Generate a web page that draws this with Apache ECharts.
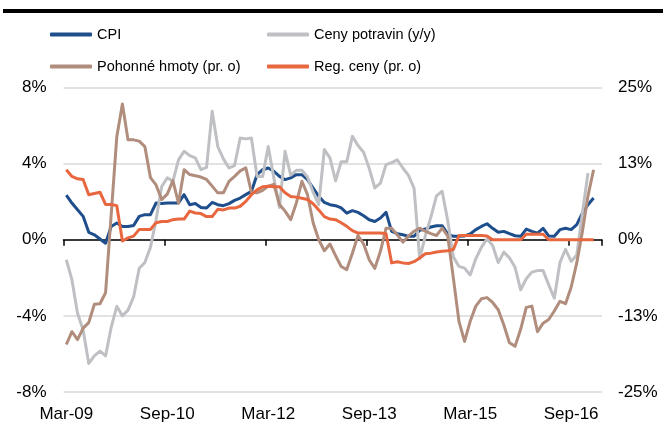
<!DOCTYPE html>
<html>
<head>
<meta charset="utf-8">
<script src="https://cdn.jsdelivr.net/npm/echarts@6/dist/echarts.min.js"></script>
<style>html,body{margin:0;padding:0;background:#fff}#c{width:663px;height:438px}</style>
</head>
<body>
<div id="c"></div>
<script>
const categories = [
 'Mar-09','Apr-09','May-09','Jun-09','Jul-09','Aug-09','Sep-09','Oct-09','Nov-09','Dec-09',
 'Jan-10','Feb-10','Mar-10','Apr-10','May-10','Jun-10','Jul-10','Aug-10','Sep-10','Oct-10','Nov-10','Dec-10',
 'Jan-11','Feb-11','Mar-11','Apr-11','May-11','Jun-11','Jul-11','Aug-11','Sep-11','Oct-11','Nov-11','Dec-11',
 'Jan-12','Feb-12','Mar-12','Apr-12','May-12','Jun-12','Jul-12','Aug-12','Sep-12','Oct-12','Nov-12','Dec-12',
 'Jan-13','Feb-13','Mar-13','Apr-13','May-13','Jun-13','Jul-13','Aug-13','Sep-13','Oct-13','Nov-13','Dec-13',
 'Jan-14','Feb-14','Mar-14','Apr-14','May-14','Jun-14','Jul-14','Aug-14','Sep-14','Oct-14','Nov-14','Dec-14',
 'Jan-15','Feb-15','Mar-15','Apr-15','May-15','Jun-15','Jul-15','Aug-15','Sep-15','Oct-15','Nov-15','Dec-15',
 'Jan-16','Feb-16','Mar-16','Apr-16','May-16','Jun-16','Jul-16','Aug-16','Sep-16','Oct-16','Nov-16','Dec-16',
 'Jan-17','Feb-17'
];

// CPI y/y, left axis (%)
const cpi = [
 2.35,1.93,1.58,1.23,0.39,0.26,0.04,-0.18,0.7,0.88,
 0.7,0.7,0.75,1.23,1.32,1.32,1.93,1.9,1.93,1.93,
 1.93,2.37,1.84,1.9,1.7,1.67,1.96,1.84,1.79,1.9,
 2.07,2.19,2.37,2.54,3.42,3.68,3.77,3.6,3.33,3.16,
 3.25,3.42,3.42,3.16,2.72,2.28,1.96,1.84,1.79,1.67,
 1.4,1.53,1.44,1.26,1.05,0.96,1.14,1.44,0.44,0.32,
 0.26,0.18,0.18,0.5,0.56,0.67,0.74,0.74,0.3,0.18,
 0.18,0.2,0.3,0.53,0.7,0.84,0.6,0.39,0.44,0.32,
 0.21,0.18,0.56,0.44,0.35,0.6,0.2,0.18,0.53,0.6,
 0.53,0.79,1.4,1.84,2.19
];

// Food prices y/y, left axis (%)
const food = [
 -1.05,-2.1,-3.86,-4.74,-6.5,-6.1,-5.85,-6.1,-4.6,-3.5,
 -4.0,-3.7,-3.0,-1.5,-1.2,-0.4,1.05,2.8,3.25,3.07,
 4.2,4.65,4.42,4.3,3.68,3.8,6.75,4.9,4.25,3.77,
 3.9,5.35,5.3,5.35,3.33,3.33,4.9,3.25,1.7,4.65,
 3.4,3.65,3.65,3.3,2.5,1.85,4.74,4.3,3.1,4.1,
 4.1,5.44,4.95,4.6,3.75,2.72,2.98,3.95,4.05,4.2,
 3.77,3.38,2.7,-1.0,0.2,1.2,2.3,2.55,1.0,-0.9,
 -1.4,-1.49,-1.85,-1.0,-0.4,0.05,-0.3,-1.2,-0.65,-0.95,
 -1.45,-2.63,-2.05,-1.7,-1.62,-1.62,-2.37,-3.07,-1.2,-0.5,
 -1.14,-0.8,1.4,3.5
];

// Fuel prices, right axis (%)
const fuel = [
 -17.2,-15.1,-16.4,-14.5,-13.6,-10.6,-10.5,-8.7,4.1,16.9,
 22.3,16.4,16.4,16.2,15.3,10.2,9.0,6.6,7.5,9.7,
 6.0,11.5,10.7,10.5,10.3,9.9,8.8,7.7,7.7,9.6,
 10.4,11.3,11.8,7.8,7.7,8.1,8.8,9.1,5.8,4.7,
 3.3,6.0,9.6,7.4,2.8,0,-1.8,-0.7,-2.6,-4.4,
 -4.9,-2.2,0.7,-0.7,-3.3,-4.7,-1.9,1.9,1.9,0.8,
 -0.4,0.6,1.4,1.9,1.4,1.0,0.7,1.9,0.6,-6.3,
 -13.4,-16.7,-13.4,-10.9,-9.7,-9.5,-10.3,-11.5,-14.0,-16.9,
 -17.5,-14.7,-11.1,-10.9,-15.1,-13.7,-13.1,-11.7,-10.1,-10.5,
 -7.8,-3.8,1.3,7.2,11.5
];

// Regulated prices, right axis (%)
const regulated = [
 11.5,10.4,10.0,9.9,7.4,7.6,7.8,5.8,5.8,5.6,
 -0.2,0.3,0.6,1.7,1.7,1.7,2.8,3.0,3.0,3.3,
 3.4,3.4,4.7,4.4,4.3,3.8,3.8,5.0,4.9,5.2,
 5.2,5.5,6.3,7.4,8.2,8.7,8.8,8.7,8.7,7.7,
 7.1,7.0,6.8,6.6,5.9,4.9,3.8,3.4,3.3,2.8,
 2.2,1.5,1.1,1.1,1.1,1.1,1.1,1.0,-3.8,-3.6,
 -3.8,-3.9,-3.6,-3.0,-2.3,-2.2,-2.0,-1.9,-1.8,-1.6,
 0.7,0.7,0.7,0.7,0.7,0.6,0,0,0,0,
 0,0,0.9,0.9,0.9,0.9,0,0,0,0,
 0,0,0,0,0
];

const names = ['CPI','Ceny potravin (y/y)','Pohonné hmoty (pr. o)','Reg. ceny (pr. o)'];
const colors = ['#1F4E8C','#BFC0C4','#B08D7C','#E8673F'];
const FONT = 'Liberation Sans, Arial, sans-serif';

const chart = echarts.init(document.getElementById('c'), null, {renderer:'canvas'});

function legendFor(idx, left, top) {
  return {
    data: [names[idx]], left: left, top: top, padding: 0,
    icon: 'roundRect', itemWidth: 42, itemHeight: 4,
    textStyle: {fontSize: 14.5, color: '#000', fontFamily: FONT}
  };
}

function lineSeries(idx, data, yIdx) {
  return {
    name: names[idx], type: 'line', data: data, yAxisIndex: yIdx, xAxisIndex: 0,
    symbol: 'none', smooth: false,
    lineStyle: {color: colors[idx], width: 3, join: 'round'},
    itemStyle: {color: colors[idx]},
    emphasis: {disabled: true}
  };
}

chart.setOption({
  animation: false,
  textStyle: {fontFamily: FONT},
  graphic: [
    {type: 'rect', shape: {x: 3, y: 9, width: 660, height: 4}, style: {fill: '#000'}}
  ],
  legend: [
    legendFor(0, 50, 27),
    legendFor(1, 267, 27),
    legendFor(2, 50, 59),
    legendFor(3, 267, 59)
  ],
  grid: {left: 63.5, right: 61, top: 87.5, bottom: 46, containLabel: false},
  xAxis: [
    {
      type: 'category', data: categories, boundaryGap: true, position: 'bottom',
      axisLine: {show: false, onZero: false}, axisTick: {show: false},
      axisLabel: {interval: 17, fontSize: 17, color: '#000', margin: 14, fontFamily: FONT},
      splitLine: {show: false}
    },
    {
      type: 'category', data: categories, boundaryGap: true, position: 'bottom',
      axisLine: {show: true, onZero: true, onZeroAxisIndex: 0, lineStyle: {color: '#000', width: 1.5}},
      axisTick: {show: true, interval: 17, length: 6, lineStyle: {color: '#000', width: 1.5}},
      axisLabel: {show: false},
      splitLine: {show: false}
    }
  ],
  yAxis: [
    {
      type: 'value', min: -8, max: 8, interval: 4, position: 'left',
      axisLine: {show: false}, axisTick: {show: false},
      axisLabel: {formatter: v => v + '%', fontSize: 17, color: '#000', margin: 17, fontFamily: FONT},
      splitLine: {show: true, lineStyle: {color: '#D9D9D9', width: 1.5}}
    },
    {
      type: 'value', min: -25, max: 25, interval: 12.5, position: 'right',
      axisLine: {show: false}, axisTick: {show: false},
      axisLabel: {
        formatter: v => (Math.sign(v) * Math.round(Math.abs(v))) + '%',
        fontSize: 17, color: '#000', margin: 16, fontFamily: FONT
      },
      splitLine: {show: false}
    }
  ],
  series: [
    lineSeries(0, cpi, 0),
    lineSeries(1, food, 0),
    lineSeries(2, fuel, 1),
    lineSeries(3, regulated, 1)
  ]
});
</script>
</body>
</html>
